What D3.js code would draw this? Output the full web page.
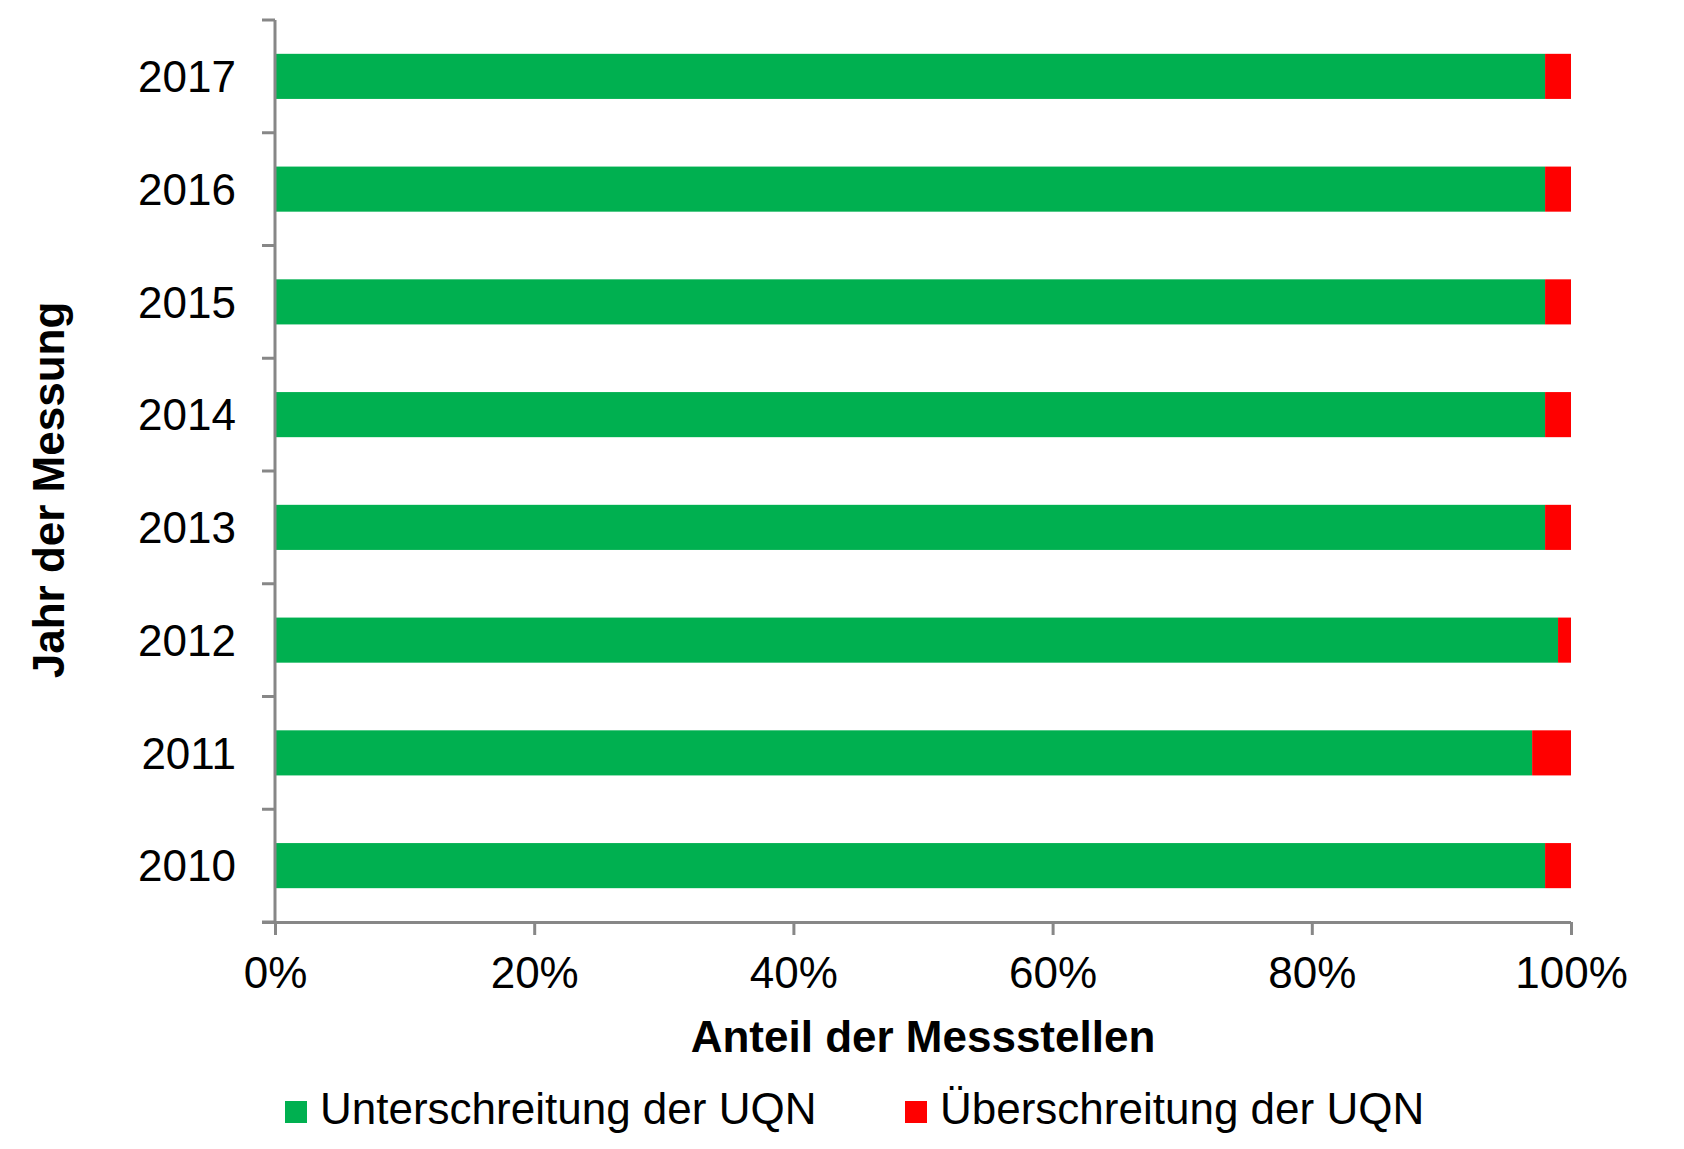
<!DOCTYPE html>
<html lang="de">
<head>
  <meta charset="UTF-8" />
  <title>Anteil der Messstellen</title>
  <style>
    body { margin: 0; background: #fff; }
    svg { display: block; }
    text { font-family: "Liberation Sans", Arial, sans-serif; fill: #000; }
  </style>
</head>
<body>
  <svg width="1684" height="1149"></svg>

  <script src="https://d3js.org/d3.v7.min.js"></script>
  <script>
    // Years as shown top to bottom
    const years = ['2017', '2016', '2015', '2014', '2013', '2012', '2011', '2010'];
    // Share of measuring points (%)
    const unterschreitung = [98, 98, 98, 98, 98, 99, 97, 98];
    const ueberschreitung = [2, 2, 2, 2, 2, 1, 3, 2];
    const xTicks = [0, 20, 40, 60, 80, 100];
    const seriesNames = ['Unterschreitung der UQN', 'Überschreitung der UQN'];
    const colors = ['#00b050', '#ff0000'];

    const svg = d3.select('svg');
    const plotLeft = 275, plotRight = 1571, plotTop = 20, plotBottom = 922;
    const axisColor = '#878787';

    const x = d3.scaleLinear().domain([0, 100]).range([plotLeft, plotRight]);
    const y = d3.scaleBand().domain(years).range([plotTop, plotBottom])
      .paddingInner(0.6).paddingOuter(0.3);

    const rows = years.map((yr, i) => ({ year: yr, vals: [unterschreitung[i], ueberschreitung[i]] }));

    // stacked bars
    const stack = d3.stack().keys([0, 1]).value((d, k) => d.vals[k]);
    const layers = stack(rows);
    svg.append('g').selectAll('g')
      .data(layers)
      .join('g')
      .attr('fill', (d, i) => colors[i])
      .selectAll('rect')
      .data(d => d)
      .join('rect')
      .attr('x', d => x(d[0]))
      .attr('width', d => x(d[1]) - x(d[0]))
      .attr('y', d => y(d.data.year))
      .attr('height', y.bandwidth());

    // x axis
    const xAxis = svg.append('g')
      .attr('transform', `translate(0,${plotBottom})`)
      .call(d3.axisBottom(x).tickValues(xTicks).tickFormat(d => d + '%')
        .tickSize(13).tickSizeOuter(0).tickPadding(22));
    xAxis.select('.domain').attr('stroke', axisColor).attr('stroke-width', 3)
      .attr('d', `M${plotLeft - 13},0.5H${plotRight}`);
    xAxis.selectAll('.tick line').attr('stroke', axisColor).attr('stroke-width', 3);
    xAxis.selectAll('.tick text').style('font-size', '44px')
      .style('font-family', '"Liberation Sans", Arial, sans-serif');

    // y axis
    const yAxis = svg.append('g')
      .attr('transform', `translate(${plotLeft},0)`)
      .call(d3.axisLeft(y).tickSize(0).tickPadding(39));
    yAxis.select('.domain').attr('stroke', axisColor).attr('stroke-width', 3)
      .attr('d', `M0,${plotTop}V${plotBottom}`);
    yAxis.selectAll('.tick text').style('font-size', '44px').attr('dy', '0.36em')
      .style('font-family', '"Liberation Sans", Arial, sans-serif');

    // tick marks between categories
    const bounds = d3.range(years.length + 1).map(i => plotTop + i * y.step());
    yAxis.selectAll('line.bound')
      .data(bounds)
      .join('line')
      .attr('class', 'bound')
      .attr('x1', -13).attr('x2', 0)
      .attr('y1', d => d).attr('y2', d => d)
      .attr('stroke', axisColor).attr('stroke-width', 3);

    // axis titles
    svg.append('text')
      .attr('x', (plotLeft + plotRight) / 2).attr('y', 1052)
      .attr('text-anchor', 'middle')
      .style('font-size', '44px').style('font-weight', 'bold')
      .text('Anteil der Messstellen');

    svg.append('text')
      .attr('transform', 'translate(64,490) rotate(-90)')
      .attr('text-anchor', 'middle')
      .style('font-size', '44px').style('font-weight', 'bold')
      .text('Jahr der Messung');

    // legend
    const legendX = [285, 905];
    const legend = svg.append('g').selectAll('g')
      .data(seriesNames)
      .join('g')
      .attr('transform', (d, i) => `translate(${legendX[i]},1101)`);
    legend.append('rect')
      .attr('width', 22).attr('height', 22)
      .attr('fill', (d, i) => colors[i]);
    legend.append('text')
      .attr('x', 35).attr('y', 23)
      .style('font-size', '44px')
      .text(d => d);
  </script>
</body>
</html>
